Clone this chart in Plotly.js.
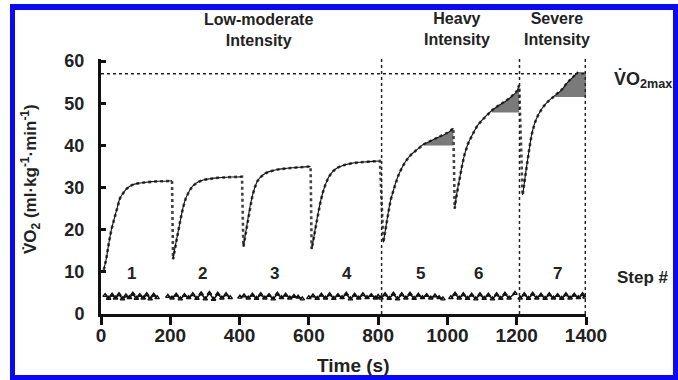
<!DOCTYPE html>
<html><head><meta charset="utf-8">
<script src="https://cdn.plot.ly/plotly-3.0.1.min.js"></script>
<style>
html,body{margin:0;padding:0;background:#fff;}
#wrap{position:relative;width:678px;height:380px;}
#chart{width:678px;height:380px;}
#frame{position:absolute;left:10px;top:4px;width:668px;height:376px;box-sizing:border-box;border:5px solid #0a0af0;border-top-width:6px;pointer-events:none;}
</style></head>
<body><div id="wrap"><div id="chart"></div><div id="frame"></div></div>
<script>
// ---- data ----
const step1T = [8, 15, 22, 30, 38, 46, 55, 65, 75, 90, 107, 125, 145, 165, 185, 205];
const step1V = [10.5, 13, 16.5, 20, 22.5, 25, 27.5, 28.8, 29.8, 30.6, 31, 31.2, 31.4, 31.5, 31.5, 31.6];
const step2T = [208, 213, 219, 225, 231, 237, 245, 255, 265, 280, 295, 315, 335, 355, 375, 395, 407];
const step2V = [13, 15.5, 18, 20.5, 23, 25.3, 27.5, 29.2, 30.4, 31.3, 31.8, 32.1, 32.3, 32.4, 32.5, 32.5, 32.6];
const step3T = [411, 416, 421, 426, 431, 437, 444, 452, 462, 475, 490, 510, 530, 550, 570, 590, 605];
const step3V = [16, 18.5, 21, 23.5, 25.8, 28, 30, 31.6, 32.6, 33.4, 33.9, 34.3, 34.5, 34.7, 34.8, 34.9, 35];
const step4T = [608, 613, 618, 623, 628, 634, 641, 649, 658, 670, 685, 705, 725, 745, 765, 785, 805];
const step4V = [15.4, 17.5, 20, 22.3, 24.5, 26.8, 29, 31, 32.6, 33.9, 34.8, 35.4, 35.8, 36, 36.1, 36.2, 36.3];
const step5T = [815, 820, 825, 830, 836, 843, 850, 858, 868, 880, 895, 912, 930, 950, 970, 990, 1005, 1017];
const step5V = [17, 19.5, 22, 24.5, 27, 29, 31, 32.8, 34.6, 36.3, 37.8, 39, 40.2, 41, 41.8, 42.5, 43.2, 44.1];
const step6T = [1021, 1025, 1030, 1036, 1043, 1050, 1060, 1072, 1085, 1100, 1115, 1130, 1150, 1170, 1185, 1200, 1207];
const step6V = [25, 27.5, 30, 32.5, 35.5, 38, 40.5, 42.5, 44.5, 46, 47.3, 48.4, 49.6, 50.6, 51.6, 52.8, 54.3];
const step7T = [1217, 1221, 1225, 1230, 1236, 1243, 1252, 1262, 1275, 1290, 1310, 1330, 1345, 1360, 1377];
const step7V = [28.2, 30.5, 33, 35.8, 39, 42.5, 45.3, 47.2, 49, 50.4, 51.8, 53.2, 54.8, 56, 57.4];

// residual traces (baseline at ~4)
const res1T = [12, 22, 32, 42, 52, 62, 72, 82, 92, 102, 112, 122, 132, 142, 152, 162];
const res1V = [4.4, 3.7, 4.5, 3.8, 4.6, 3.6, 4.3, 3.9, 4.7, 3.7, 4.4, 3.8, 4.6, 3.6, 4.5, 3.9];
const res2T = [193, 205, 217, 229, 241, 253, 265, 277, 289, 301, 313, 325, 337, 349, 361, 373];
const res2V = [4.2, 3.8, 4.5, 3.6, 4.4, 3.9, 4.6, 3.7, 4.8, 3.6, 4.9, 3.5, 4.7, 3.8, 4.6, 3.9];
const res3T = [401, 413, 425, 437, 449, 461, 473, 485, 497, 509, 521, 533, 545, 557, 569, 581];
const res3V = [4.0, 4.3, 3.8, 4.5, 3.7, 4.6, 3.8, 4.4, 3.6, 4.7, 3.9, 4.5, 3.8, 4.2, 4.0, 3.6];
const res4T = [600, 612, 624, 636, 648, 660, 672, 684, 696, 708, 720, 732, 744, 756, 768, 780, 792, 800];
const res4V = [3.9, 4.3, 3.7, 4.5, 3.8, 4.6, 3.7, 4.4, 3.9, 4.7, 3.6, 4.5, 3.8, 4.6, 3.9, 4.4, 3.8, 4.2];
const res5T = [808, 820, 832, 844, 856, 868, 880, 892, 904, 916, 928, 940, 952, 964, 976, 987];
const res5V = [3.8, 4.6, 3.7, 4.7, 3.6, 4.6, 3.8, 4.7, 3.7, 4.5, 3.9, 4.4, 3.8, 4.3, 3.9, 3.6];
const res6T = [1010, 1022, 1034, 1046, 1058, 1070, 1082, 1094, 1106, 1118, 1130, 1142, 1154, 1166, 1178, 1195];
const res6V = [3.9, 4.7, 3.8, 4.6, 3.7, 4.5, 3.6, 4.6, 3.7, 4.5, 3.6, 4.6, 3.7, 4.7, 3.8, 4.9];
const res7T = [1210, 1222, 1234, 1246, 1258, 1270, 1282, 1294, 1306, 1318, 1330, 1342, 1354, 1366, 1378, 1390, 1397];
const res7V = [3.8, 4.6, 3.7, 4.7, 3.8, 4.5, 3.7, 4.6, 3.8, 4.4, 3.7, 4.6, 3.8, 4.5, 3.9, 4.6, 4.0];

// slow-component shaded areas (steps 5, 6, 7)
const slowStep = [5, 6, 7];
const slowStart = [930, 1128, 1308];
const slowEnd = [1017, 1207, 1400];
const slowBase = [40.0, 47.8, 51.5];

const vo2max = 57;
const boundaryT = [810, 1208, 1398];
const stepNames = ['1', '2', '3', '4', '5', '6', '7'];
const xTicks = [0, 200, 400, 600, 800, 1000, 1200, 1400];
const yTicks = [0, 10, 20, 30, 40, 50, 60];

// ---- build ----
const stepsT = [step1T, step2T, step3T, step4T, step5T, step6T, step7T];
const stepsV = [step1V, step2V, step3V, step4V, step5V, step6V, step7V];
const resT = [res1T, res2T, res3T, res4T, res5T, res6T, res7T];
const resV = [res1V, res2V, res3V, res4V, res5V, res6V, res7V];

const FONT = 'Liberation Sans, Arial, sans-serif';
const traces = [];

// shaded slow components
slowStep.forEach((s, i) => {
  const T = stepsT[s - 1], V = stepsV[s - 1];
  const px = [slowStart[i]], py = [slowBase[i]];
  T.forEach((t, j) => { if (t >= slowStart[i] && t <= slowEnd[i]) { px.push(t); py.push(V[j]); } });
  px.push(slowEnd[i]); py.push(V[V.length - 1]);
  px.push(slowEnd[i]); py.push(slowBase[i]);
  traces.push({x: px, y: py, mode: 'lines', fill: 'toself', fillcolor: '#7a7a7a',
    line: {width: 0, color: '#7a7a7a'}, hoverinfo: 'skip', showlegend: false});
});

// measured data (dotted), all steps joined -> vertical drops appear between steps
let allT = [], allV = [];
stepsT.forEach((T, i) => { allT = allT.concat(T); allV = allV.concat(stepsV[i]); });
traces.push({x: allT, y: allV, mode: 'lines', line: {color: '#444', width: 2.6, dash: 'dot'},
  showlegend: false, hoverinfo: 'skip'});
// model fit (thin solid) per step
stepsT.forEach((T, i) => {
  traces.push({x: T, y: stepsV[i], mode: 'lines', line: {color: '#111', width: 1.1, shape: 'spline'},
    showlegend: false});
});
// residuals
resT.forEach((T, i) => {
  traces.push({x: T, y: resV[i], mode: 'lines+markers', line: {color: '#111', width: 1.5},
    marker: {symbol: 'triangle-up-open', size: 4, color: '#111', line: {width: 1.3}},
    showlegend: false});
});

const shapes = [];
boundaryT.forEach(t => shapes.push({type: 'line', xref: 'x', yref: 'y', x0: t, x1: t, y0: 0, y1: 60.5,
  line: {color: '#222', width: 1.5, dash: 'dot'}}));
shapes.push({type: 'line', xref: 'x', yref: 'y', x0: 0, x1: 1400, y0: vo2max, y1: vo2max,
  line: {color: '#222', width: 1.5, dash: 'dot'}});

const C = {xanchor: 'center', yanchor: 'middle', showarrow: false};
const stepLabelX = [87, 292, 502, 710, 921, 1091, 1317];
const annotations = stepNames.map((s, i) => Object.assign({x: stepLabelX[i], y: 9.7, xref: 'x', yref: 'y', text: s,
  font: {family: FONT, size: 17, color: '#222', weight: 700}}, C));
const hdr = {family: FONT, size: 16, color: '#222', weight: 700};
[
  {x: 0.324, y: 1.112, text: 'Low-moderate<br>Intensity', font: hdr},
  {x: 0.734, y: 1.118, text: 'Heavy<br>Intensity', font: hdr},
  {x: 0.940, y: 1.118, text: 'Severe<br>Intensity', font: hdr},
  {x: 1.1175, y: 0.918, text: 'V̇O<sub>2max</sub>', font: {family: FONT, size: 18, color: '#222', weight: 700}},
  {x: 1.1175, y: 0.145, text: 'Step #', font: {family: FONT, size: 17, color: '#222', weight: 700}},
  {x: 0.52, y: -0.2, text: 'Time (s)', font: {family: FONT, size: 19, color: '#222', weight: 700}},
  {x: -0.144, y: 0.53, text: 'V̇O<sub>2</sub> (ml·kg<sup>-1</sup>·min<sup>-1</sup>)', textangle: -90,
    font: {family: FONT, size: 17, color: '#222', weight: 700}}
].forEach(a => annotations.push(Object.assign({xref: 'paper', yref: 'paper'}, C, a)));

const layout = {
  width: 678, height: 380,
  margin: {l: 101, r: 92, t: 59, b: 66},
  paper_bgcolor: '#fff', plot_bgcolor: '#fff',
  showlegend: false,
  xaxis: {range: [0, 1400], tickvals: xTicks, showgrid: false, zeroline: false,
    showline: true, linecolor: '#111', linewidth: 3, ticks: 'outside', ticklen: 8, tickwidth: 3, tickcolor: '#111',
    ticklabelstandoff: -6,
    tickfont: {family: FONT, size: 19, color: '#222', weight: 700}},
  yaxis: {range: [0, 60.5], tickvals: yTicks, showgrid: false, zeroline: false,
    showline: true, linecolor: '#111', linewidth: 3, ticks: 'inside', ticklen: 5, tickwidth: 3, tickcolor: '#111',
    ticklabelstandoff: 10,
    tickfont: {family: FONT, size: 18, color: '#222', weight: 700}},
  shapes: shapes,
  annotations: annotations
};
Plotly.newPlot('chart', traces, layout, {displayModeBar: false, staticPlot: true});
</script></body></html>
